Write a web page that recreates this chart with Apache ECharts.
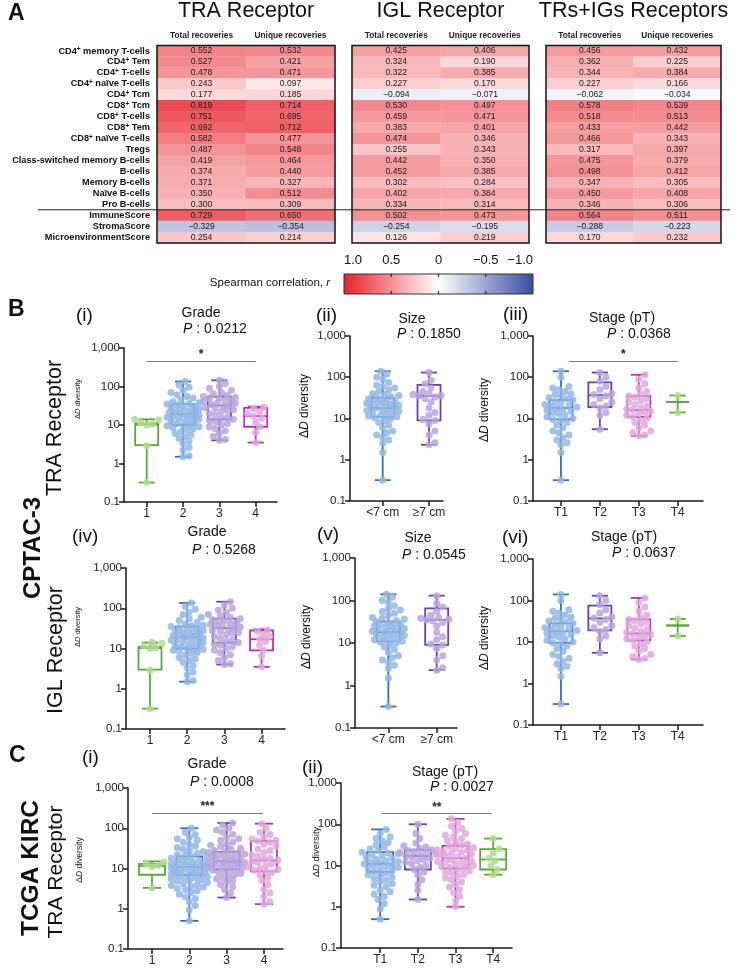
<!DOCTYPE html>
<html>
<head>
<meta charset="utf-8">
<script src="https://cdn.jsdelivr.net/npm/echarts@6/dist/echarts.min.js"></script>
<style>
  html, body { margin: 0; padding: 0; background: #fff; }
  #main { width: 741px; height: 971px; }
</style>
</head>
<body>
<div id="main"></div>
<script>
  const FONT = '"Liberation Sans", Arial, Helvetica, sans-serif'

  // ---- panel A: heatmap ----
  const cellTypes = ['CD4+ memory T-cells', 'CD4+ Tem', 'CD4+ T-cells', 'CD4+ naïve T-cells', 'CD4+ Tcm',
    'CD8+ Tcm', 'CD8+ T-cells', 'CD8+ Tem', 'CD8+ naïve T-cells', 'Tregs', 'Class-switched memory B-cells',
    'B-cells', 'Memory B-cells', 'Naïve B-cells', 'Pro B-cells', 'ImmuneScore', 'StromaScore', 'MicroenvironmentScore']
  const recoveryCols = ['Total recoveries', 'Unique recoveries']
  const receptorTitles = ['TRA Receptor', 'IGL Receptor', 'TRs+IGs Receptors']
  const traTotal = [0.552, 0.527, 0.478, 0.243, 0.177, 0.819, 0.751, 0.692, 0.582, 0.487, 0.419, 0.374, 0.371, 0.350, 0.300, 0.729, -0.329, 0.254]
  const traUnique = [0.532, 0.421, 0.471, 0.097, 0.185, 0.714, 0.695, 0.712, 0.477, 0.548, 0.464, 0.440, 0.327, 0.512, 0.309, 0.650, -0.354, 0.214]
  const iglTotal = [0.425, 0.324, 0.322, 0.227, -0.094, 0.530, 0.459, 0.383, 0.474, 0.255, 0.442, 0.452, 0.302, 0.402, 0.334, 0.502, -0.254, 0.126]
  const iglUnique = [0.406, 0.190, 0.385, 0.170, -0.071, 0.497, 0.471, 0.401, 0.346, 0.343, 0.350, 0.385, 0.284, 0.384, 0.314, 0.473, -0.195, 0.219]
  const bothTotal = [0.456, 0.362, 0.344, 0.227, -0.062, 0.578, 0.518, 0.433, 0.466, 0.317, 0.475, 0.498, 0.347, 0.450, 0.346, 0.564, -0.288, 0.170]
  const bothUnique = [0.432, 0.225, 0.384, 0.166, -0.034, 0.539, 0.513, 0.442, 0.343, 0.397, 0.379, 0.412, 0.305, 0.408, 0.306, 0.511, -0.223, 0.232]
  const colorbarLabels = ['1.0', '0.5', '0', '\u22120.5', '\u22121.0']

  // ---- panels B / C: box + dot plots ----
  const gradeCats = ['1', '2', '3', '4']
  const sizeCats = ['<7 cm', '\u22657 cm']
  const stageCats = ['T1', 'T2', 'T3', 'T4']
  const yTicks = [0.1, 1, 10, 100, 1000]

  // CPTAC-3 (same picture in TRA and IGL rows)
  const cpGradeBox = [[0.32, 3, 10.2, 11, 14], [1.5, 10, 19, 35, 135], [4, 14, 32, 55, 145], [3.5, 9, 17, 28, 30]]
  const cpGrade1 = [0.32, 2.9, 10, 10.5, 11.5, 13.5, 14]
  const cpGrade2 = [1.5, 1.6, 2.2, 2.6, 3.3, 3.8, 4.5, 5, 5.5, 6, 6.8, 7.5, 8, 8.5, 9, 9.5, 10, 10, 11, 11.5, 12, 13, 13.5, 14,
    15, 16, 16.5, 17, 18, 18.5, 19, 20, 21, 22, 23, 24, 25, 26, 27, 28, 30, 32, 33, 35, 36, 38, 40, 45, 50, 55, 60, 70, 80, 95, 110, 135]
  const cpGrade3 = [4, 4.2, 5, 6, 7, 8, 9, 10, 11, 12, 13, 14, 15, 16, 18, 20, 22, 24, 25, 27, 28, 30, 32, 34, 36, 38, 40, 42,
    45, 48, 50, 52, 55, 60, 65, 70, 80, 90, 100, 120, 145]
  const cpGrade4 = [3.5, 6.5, 9, 12, 15, 17, 20, 22, 27, 29]

  const cpSizeBox = [[0.32, 11, 18, 32, 140], [2.3, 9, 35, 65, 130]]
  const cpSizeSmall = [0.32, 1.5, 2.5, 3, 3.5, 4, 4.5, 5, 6, 7, 8, 9, 10, 10.5, 11, 11.5, 12, 12.5, 13, 14, 15, 15.5, 16, 17, 18,
    18.5, 19, 20, 21, 22, 23, 24, 25, 26, 27, 28, 30, 32, 34, 36, 38, 40, 45, 50, 55, 60, 65, 75, 90, 100, 120, 140]
  const cpSizeLarge = [2.3, 2.6, 4, 5, 7.5, 9, 9.5, 12, 14, 18, 25, 30, 33, 35, 36, 38, 40, 45, 55, 70, 85, 130]

  const cpStageBox = [[0.32, 9.5, 18, 28, 140], [5.5, 19, 37, 75, 130], [3.8, 11, 16, 35, 115], [14, 25, 25, 25, 36]]
  const cpStageT1 = [0.32, 1.5, 2.3, 2.6, 3, 3.4, 4, 4.5, 5, 6, 7, 8, 9, 9.5, 10, 11, 12, 13, 14, 15, 16, 17, 18, 19, 20, 21,
    22, 24, 26, 28, 30, 32, 35, 38, 40, 45, 50, 55, 60, 100, 140]
  const cpStageT2 = [5.5, 12, 14, 18, 20, 22, 25, 30, 35, 38, 40, 50, 60, 80, 100, 130]
  const cpStageT3 = [3.8, 4, 4.5, 5, 6, 7, 8, 9, 10, 11, 12, 13, 14, 15, 16, 17, 18, 20, 22, 25, 27, 30, 33, 35, 38, 45, 55, 70, 90, 115]
  const cpStageT4 = [14, 36]

  // TCGA KIRC
  const tcGradeBox = [[3.3, 7, 11.5, 13, 15], [0.5, 7, 11, 20, 100], [1.9, 9.5, 15, 26, 135], [1.3, 8.5, 16, 48, 130]]
  const tcGrade1 = [3.3, 11, 12, 13, 14.5]
  const tcGrade2 = [0.5, 0.95, 1.2, 1.5, 1.8, 2, 2.3, 2.5, 2.8, 3, 3.2, 3.4, 3.6, 3.8, 4, 4.2, 4.5, 4.8, 5, 5.2, 5.5, 5.8, 6,
    6.3, 6.6, 7, 7, 7.3, 7.6, 8, 8.3, 8.6, 9, 9.3, 9.6, 10, 10, 10.5, 11, 11, 11.5, 12, 12.5, 13, 13.5, 14, 14.5, 15, 16, 17,
    18, 19, 20, 21, 22, 24, 26, 28, 30, 33, 36, 40, 45, 50, 55, 60, 70, 80, 100]
  const tcGrade3 = [1.9, 2.5, 3, 3.5, 4, 4.5, 5, 5.5, 6, 6.5, 7, 7.5, 8, 8.5, 9, 9.5, 10, 10.5, 11, 11.5, 12, 12.5, 13, 13.5,
    14, 14.5, 15, 15.5, 16, 17, 18, 19, 20, 21, 22, 23, 24, 25, 26, 28, 30, 32, 35, 38, 40, 45, 50, 55, 60, 70, 80, 90, 100, 120, 135]
  const tcGrade4 = [1.3, 1.5, 2, 2.5, 3, 4, 5, 6, 7, 8, 8.5, 9, 9.5, 10, 11, 12, 13, 14, 15, 16, 17, 18, 20, 22, 25, 28, 30,
    35, 40, 45, 48, 50, 55, 60, 70, 80, 100, 130]

  const tcStageBox = [[0.5, 7, 11, 21, 75], [1.5, 8, 17, 24, 100], [1, 8.5, 15, 30, 135], [6, 8, 14, 25, 45]]
  const tcStageT1 = [0.5, 0.9, 1.2, 1.5, 1.8, 2, 2.3, 2.6, 3, 3.3, 3.6, 4, 4.4, 4.8, 5.2, 5.6, 6, 6.5, 7, 7.5, 8, 8.5, 9, 9.5,
    10, 10.5, 11, 11.5, 12, 12.5, 13, 14, 15, 16, 17, 18, 19, 20, 21, 23, 25, 28, 32, 36, 40, 45, 50, 60, 75]
  const tcStageT2 = [1.5, 2.5, 3.5, 4.5, 6, 7, 8, 9, 10, 11, 12, 13, 14, 15, 16, 17, 18, 19, 20, 21, 22, 23, 24, 26, 28, 30, 35, 45, 60, 100]
  const tcStageT3 = [1, 1.4, 1.8, 2.2, 2.6, 3, 3.5, 4, 4.5, 5, 5.5, 6, 6.5, 7, 7.5, 8, 8.5, 9, 9.5, 10, 10.5, 11, 11.5, 12, 12.5,
    13, 14, 15, 16, 17, 18, 19, 20, 21, 22, 23, 24, 25, 27, 29, 31, 33, 36, 40, 45, 50, 55, 60, 70, 80, 90, 110, 135]
  const tcStageT4 = [6, 8, 10, 13, 15, 20, 25, 45]

  // box line colour, dot colour
  const GREEN = ['#5ba83a', '#b3da92']
  const BLUE = ['#3b6cb4', '#92b7e6']
  const PURPLE = ['#6a40b0', '#b8a4dd']
  const MAGENTA = ['#b036ad', '#e0a9dc']

  const panels = [
    { grid: { left: 124, top: 348, width: 153, height: 154 }, xmin: 0.375, xmax: 4.586, cats: gradeCats, box: cpGradeBox,
      pts: [cpGrade1, cpGrade2, cpGrade3, cpGrade4], cols: [GREEN, BLUE, PURPLE, MAGENTA], sig: { from: 1, to: 4, y: 460, text: '*' } },
    { grid: { left: 350, top: 336, width: 93, height: 165 }, xmin: 0.294, xmax: 2.302, cats: sizeCats, box: cpSizeBox,
      pts: [cpSizeSmall, cpSizeLarge], cols: [BLUE, PURPLE] },
    { grid: { left: 533, top: 336, width: 170, height: 165 }, xmin: 0.282, xmax: 4.65, cats: stageCats, box: cpStageBox,
      pts: [cpStageT1, cpStageT2, cpStageT3, cpStageT4], cols: [BLUE, PURPLE, MAGENTA, GREEN], sig: { from: 1.2, to: 4, y: 248, text: '*' } },
    { grid: { left: 126, top: 568, width: 159, height: 161 }, xmin: 0.355, xmax: 4.63, cats: gradeCats, box: cpGradeBox,
      pts: [cpGrade1, cpGrade2, cpGrade3, cpGrade4], cols: [GREEN, BLUE, PURPLE, MAGENTA] },
    { grid: { left: 355, top: 558, width: 102, height: 170 }, xmin: 0.31, xmax: 2.42, cats: sizeCats, box: cpSizeBox,
      pts: [cpSizeSmall, cpSizeLarge], cols: [BLUE, PURPLE] },
    { grid: { left: 533, top: 559, width: 170, height: 166 }, xmin: 0.282, xmax: 4.65, cats: stageCats, box: cpStageBox,
      pts: [cpStageT1, cpStageT2, cpStageT3, cpStageT4], cols: [BLUE, PURPLE, MAGENTA, GREEN] },
    { grid: { left: 128, top: 788, width: 155, height: 161 }, xmin: 0.357, xmax: 4.51, cats: gradeCats, box: tcGradeBox,
      pts: [tcGrade1, tcGrade2, tcGrade3, tcGrade4], cols: [GREEN, BLUE, PURPLE, MAGENTA], boxW: 26, sig: { from: 1, to: 3.97, y: 239, text: '***' } },
    { grid: { left: 341, top: 783, width: 171, height: 165 }, xmin: -0.04, xmax: 4.5, cats: stageCats, box: tcStageBox,
      pts: [tcStageT1, tcStageT2, tcStageT3, tcStageT4], cols: [BLUE, PURPLE, MAGENTA, GREEN], boxW: 26, sig: { from: 1.05, to: 3.96, y: 180, text: '**' } }
  ]

  function fmtR (v) {
    return (v < 0 ? '\u2212' : '') + Math.abs(v).toFixed(3)
  }

  function supLabel (name) {
    let i = name.indexOf('+')
    if (i < 0) return name
    return name.slice(0, i) + '{s|+}' + name.slice(i + 1)
  }

  // simple beeswarm: sorted by value, each dot pushed sideways until it does not overlap
  function swarm (vals, center, pxPerUnit, pxPerDec, maxHalf) {
    let sorted = vals.slice().sort((a, b) => a - b)
    let placed = []
    let out = []
    const minDist = 6
    sorted.forEach((v) => {
      let y = Math.log10(v) * pxPerDec
      let best = 0, bestScore = -1
      for (let k = 0; k <= 16; k++) {
        let cands = k === 0 ? [0] : [k * 2, -k * 2]
        let done = false
        for (let c = 0; c < cands.length; c++) {
          let x = cands[c]
          if (Math.abs(x) > maxHalf) continue
          let d = Infinity
          placed.forEach((p) => { d = Math.min(d, Math.hypot(p[0] - x, p[1] - y)) })
          if (d >= minDist) { best = x; done = true; break }
          if (d > bestScore) { bestScore = d; best = x }
        }
        if (done) break
      }
      placed.push([best, y])
      out.push([center + best / pxPerUnit, v])
    })
    return out
  }

  function boxRenderer (colors, boxW, capW) {
    return function (params, api) {
      let x = api.value(0)
      let p = [1, 2, 3, 4, 5].map((k) => api.coord([x, api.value(k)]))
      let cx = p[0][0]
      let st = { stroke: colors[params.dataIndex], lineWidth: 1.8, fill: 'none' }
      let line = (x1, y1, x2, y2) => ({ type: 'line', shape: { x1, y1, x2, y2 }, style: st })
      return {
        type: 'group',
        children: [
          line(cx, p[0][1], cx, p[1][1]),
          line(cx, p[3][1], cx, p[4][1]),
          line(cx - capW / 2, p[0][1], cx + capW / 2, p[0][1]),
          line(cx - capW / 2, p[4][1], cx + capW / 2, p[4][1]),
          { type: 'rect', shape: { x: cx - boxW / 2, y: p[3][1], width: boxW, height: p[1][1] - p[3][1] }, style: st },
          line(cx - boxW / 2, p[2][1], cx + boxW / 2, p[2][1])
        ]
      }
    }
  }

  let grids = [], xAxes = [], yAxes = [], series = [], graphics = []

  // heatmap grids
  const heatGrids = [
    { left: 157, top: 45.5, width: 178, height: 197.5 },
    { left: 352, top: 45.5, width: 177, height: 197.5 },
    { left: 546, top: 45.5, width: 175, height: 197.5 }
  ]
  const heatSets = [[traTotal, traUnique], [iglTotal, iglUnique], [bothTotal, bothUnique]]
  heatGrids.forEach((g, gi) => {
    grids.push(Object.assign({ show: true, z: 5, borderColor: '#151515', borderWidth: 1.5, backgroundColor: 'rgba(0,0,0,0)' }, g))
    xAxes.push({
      gridIndex: gi, type: 'category', data: recoveryCols, position: 'top',
      axisLine: { show: false }, axisTick: { show: false }, splitLine: { show: false },
      axisLabel: { interval: 0, fontSize: 8.3, fontWeight: 'bold', color: '#222', margin: 6, fontFamily: FONT }
    })
    yAxes.push({
      gridIndex: gi, type: 'category', data: cellTypes, inverse: true,
      axisLine: { show: false }, axisTick: { show: false }, splitLine: { show: false },
      axisLabel: {
        show: gi === 0, interval: 0, fontSize: 9.2, fontWeight: 'bold', color: '#111', margin: 7, fontFamily: FONT,
        formatter: supLabel,
        rich: { s: { fontSize: 6.5, fontWeight: 'bold', color: '#111', verticalAlign: 'top', padding: [0, 0, 4, 0] } }
      }
    })
    let data = []
    heatSets[gi].forEach((col, ci) => col.forEach((v, ri) => data.push([ci, ri, v])))
    series.push({
      type: 'heatmap', xAxisIndex: gi, yAxisIndex: gi, data: data,
      itemStyle: { borderWidth: 0 },
      label: { show: true, formatter: (p) => fmtR(p.value[2]), fontSize: 8.6, color: '#1a1a1a', fontFamily: FONT },
      emphasis: { disabled: true }
    })
    graphics.push({ type: 'text', x: g.left + g.width / 2, y: 11, style: { text: receptorTitles[gi], fontSize: 21.5, fontFamily: FONT, fill: '#111', align: 'center', verticalAlign: 'middle' } })
  })

  // dot-plot grids
  panels.forEach((pn, i) => {
    let ai = 3 + i
    let ticks = pn.cats.map((c, k) => k + 1)
    grids.push(Object.assign({ show: false }, pn.grid))
    xAxes.push({
      gridIndex: ai, type: 'value', min: pn.xmin, max: pn.xmax,
      axisLine: { onZero: false, lineStyle: { color: '#1a1a1a', width: 1.5 } },
      axisTick: { customValues: ticks, length: 5, lineStyle: { color: '#1a1a1a', width: 1.5 } },
      axisLabel: { customValues: ticks, formatter: (v) => pn.cats[Math.round(v) - 1], fontSize: 12, color: '#222', margin: 6, fontFamily: FONT },
      splitLine: { show: false }
    })
    yAxes.push({
      gridIndex: ai, type: 'log', logBase: 10, min: 0.1, max: 1000,
      axisLine: { show: true, onZero: false, lineStyle: { color: '#1a1a1a', width: 1.5 } },
      axisTick: { show: true, customValues: yTicks, length: 5, lineStyle: { color: '#1a1a1a', width: 1.5 } },
      axisLabel: {
        customValues: yTicks, fontSize: 11.5, color: '#222', margin: 4, fontFamily: FONT,
        formatter: (v) => { let x = +(+v).toPrecision(6); return x >= 1000 ? x.toLocaleString('en-US') : String(x) }
      },
      splitLine: { show: false }, minorTick: { show: false }
    })
    let boxW = pn.boxW || 23
    series.push({
      type: 'custom', xAxisIndex: ai, yAxisIndex: ai, silent: true, z: 2,
      data: pn.box.map((b, k) => [k + 1].concat(b)),
      encode: { x: 0, y: [1, 2, 3, 4, 5] },
      renderItem: boxRenderer(pn.cols.map((c) => c[0]), boxW, boxW * 0.7)
    })
    let pxPerUnit = pn.grid.width / (pn.xmax - pn.xmin)
    let pxPerDec = pn.grid.height / 4
    pn.pts.forEach((vals, k) => {
      let s = {
        type: 'scatter', xAxisIndex: ai, yAxisIndex: ai, silent: true, z: 3,
        symbolSize: 7, itemStyle: { color: pn.cols[k][1], opacity: 0.85 },
        data: swarm(vals, k + 1, pxPerUnit, pxPerDec, boxW * 0.72)
      }
      if (k === 0 && pn.sig) {
        s.markLine = {
          silent: true, symbol: 'none', animation: false,
          lineStyle: { color: '#7a7a7a', width: 1.2, type: 'solid' },
          label: { show: true, position: 'middle', formatter: pn.sig.text, color: '#222', fontSize: 12, fontWeight: 'bold', distance: 0, fontFamily: FONT },
          data: [[{ coord: [pn.sig.from, pn.sig.y] }, { coord: [pn.sig.to, pn.sig.y] }]]
        }
      }
      series.push(s)
    })
  })

  // text annotations
  function txt (text, x, y, size, opts) {
    opts = opts || {}
    return {
      type: 'text', x: x, y: y, rotation: opts.rot ? Math.PI / 2 : 0, z: 50,
      style: {
        text: text, fontSize: size, fontFamily: FONT, fontWeight: opts.bold ? 'bold' : 'normal', fill: '#111',
        align: opts.align || 'left', verticalAlign: 'middle',
        rich: { i: { fontStyle: 'italic', fontSize: size, fontFamily: FONT, fill: '#111' } }
      }
    }
  }
  const dD = 'Δ{i|D} diversity'
  graphics.push(
    txt('A', 8, 14, 23, { bold: true }),
    txt('B', 8, 310, 23, { bold: true }),
    txt('C', 9, 756, 23, { bold: true }),
    txt('Spearman correlation, {i|r}', 330, 283, 11.5, { align: 'right' }),
    txt('(i)', 76, 316, 19), txt('Grade', 201, 313, 14, { align: 'center' }), txt('{i|P} : 0.0212', 183, 329, 14),
    txt('(ii)', 316, 316, 19), txt('Size', 412, 319, 14, { align: 'center' }), txt('{i|P} : 0.1850', 397, 334, 14),
    txt('(iii)', 503, 315, 19), txt('Stage (pT)', 622, 318, 14, { align: 'center' }), txt('{i|P} : 0.0368', 607, 334, 14),
    txt('(iv)', 72, 537, 19), txt('Grade', 207, 532, 14, { align: 'center' }), txt('{i|P} : 0.5268', 192, 550, 14),
    txt('(v)', 317, 535, 19), txt('Size', 418, 538, 14, { align: 'center' }), txt('{i|P} : 0.0545', 402, 555, 14),
    txt('(vi)', 502, 538, 19), txt('Stage (pT)', 624, 537, 14, { align: 'center' }), txt('{i|P} : 0.0637', 612, 553, 14),
    txt('(i)', 82, 758, 19), txt('Grade', 207, 764, 14, { align: 'center' }), txt('{i|P} : 0.0008', 190, 782, 14),
    txt('(ii)', 302, 768, 19), txt('Stage (pT)', 445, 772, 14, { align: 'center' }), txt('{i|P} : 0.0027', 430, 787, 14),
    txt('CPTAC-3', 33, 548, 24, { bold: true, rot: true, align: 'center' }),
    txt('TRA Receptor', 55, 428, 21.5, { rot: true, align: 'center' }),
    txt('IGL Receptor', 56, 650, 21.5, { rot: true, align: 'center' }),
    txt('TCGA KIRC', 31, 868, 24.5, { bold: true, rot: true, align: 'center' }),
    txt('TRA Receptor', 56, 872, 21, { rot: true, align: 'center' }),
    txt(dD, 78, 399, 7.5, { rot: true, align: 'center' }),
    txt(dD, 78, 627, 7.5, { rot: true, align: 'center' }),
    txt(dD, 305, 406, 12, { rot: true, align: 'center' }),
    txt(dD, 485, 410, 12, { rot: true, align: 'center' }),
    txt(dD, 307, 637, 12, { rot: true, align: 'center' }),
    txt(dD, 485, 638, 12, { rot: true, align: 'center' }),
    txt(dD, 80, 860, 8.5, { rot: true, align: 'center' }),
    txt(dD, 316, 852, 9.5, { rot: true, align: 'center' })
  )

  // separator between cell types and scores
  graphics.push({ type: 'line', z: 60, shape: { x1: 38, y1: 209.8, x2: 730, y2: 209.8 }, style: { stroke: '#222', lineWidth: 1 } })

  // colour bar
  const cb = { x: 344, y: 274, w: 189, h: 20 }
  graphics.push({
    type: 'rect', z: 40, shape: { x: cb.x, y: cb.y, width: cb.w, height: cb.h },
    style: {
      stroke: '#333', lineWidth: 1,
      fill: new echarts.graphic.LinearGradient(0, 0, 1, 0, [
        { offset: 0, color: '#e8212a' }, { offset: 0.5, color: '#ffffff' }, { offset: 1, color: '#3a4c9f' }
      ])
    }
  })
  colorbarLabels.forEach((lab, k) => {
    let x = cb.x + cb.w * k / (colorbarLabels.length - 1)
    let align = k === 0 ? 'left' : (k === colorbarLabels.length - 1 ? 'right' : 'center')
    graphics.push(txt(lab, x, 260, 13, { align: align }))
    if (k > 0 && k < colorbarLabels.length - 1) {
      graphics.push({ type: 'line', z: 41, shape: { x1: x, y1: cb.y, x2: x, y2: cb.y + 3 }, style: { stroke: '#222', lineWidth: 1.2 } })
      graphics.push({ type: 'line', z: 41, shape: { x1: x, y1: cb.y + cb.h - 3, x2: x, y2: cb.y + cb.h }, style: { stroke: '#222', lineWidth: 1.2 } })
    }
  })

  let chart = echarts.init(document.getElementById('main'), null, { renderer: 'canvas' })
  chart.setOption({
    animation: false,
    backgroundColor: '#fff',
    textStyle: { fontFamily: FONT },
    grid: grids,
    xAxis: xAxes,
    yAxis: yAxes,
    visualMap: {
      show: false, type: 'continuous', min: -1, max: 1, seriesIndex: [0, 1, 2], dimension: 2,
      inRange: { color: ['#3a4c9f', '#ffffff', '#e8212a'] }
    },
    series: series,
    graphic: graphics
  })
</script>
</body>
</html>
